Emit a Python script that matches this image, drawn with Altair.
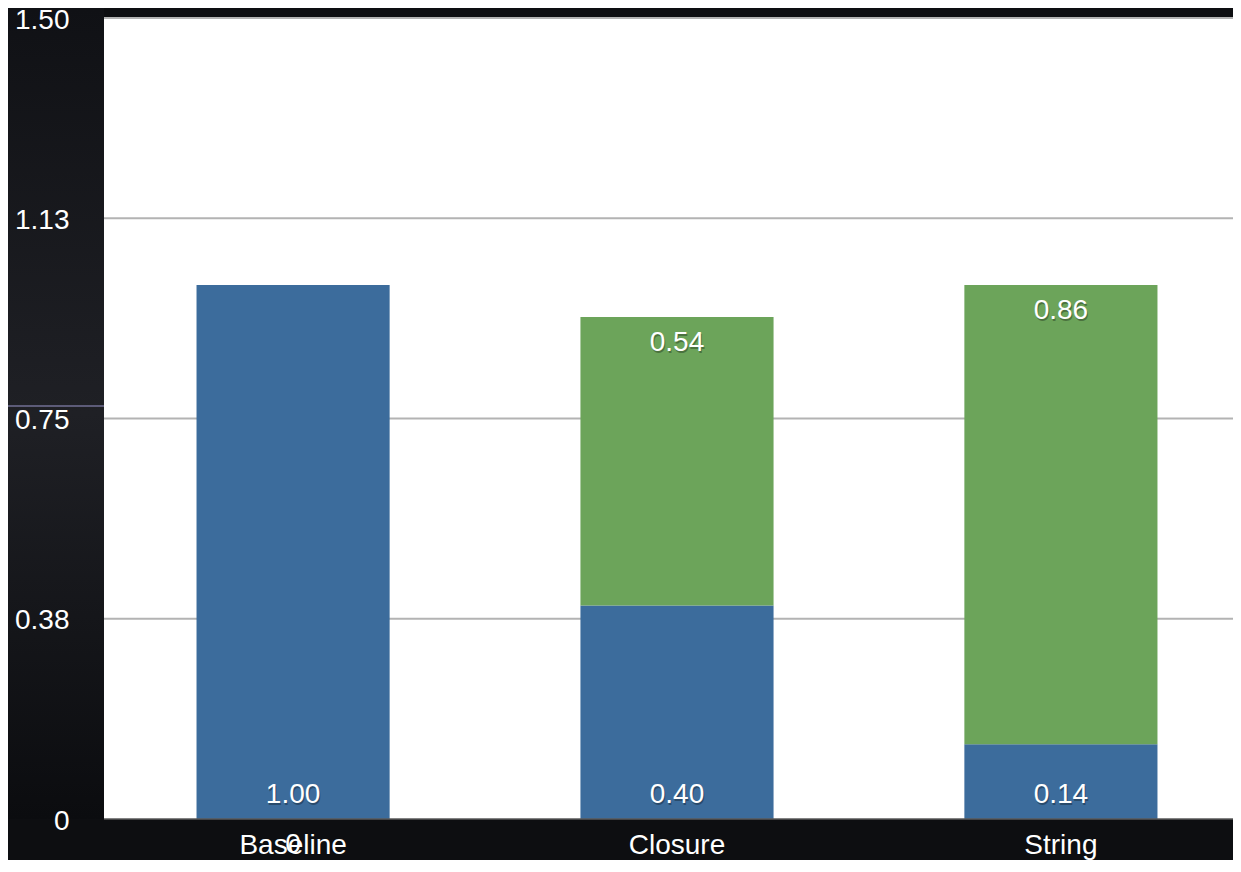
import altair as alt
import pandas as pd

categories = ["Baseline", "Closure", "String"]
blue_values = [1.00, 0.40, 0.14]
green_values = [0.00, 0.54, 0.86]
y_ticks = [0, 0.375, 0.75, 1.125, 1.5]
grid_ticks = [0.375, 0.75, 1.125, 1.5]

BLUE = "#3c6c9c"
GREEN = "#6ca45a"
FONT = "Liberation Sans"
W, H = 1129, 801
PAD_L, PAD_T, PAD_B = 96, 10, 41

rows = []
for c, b, g in zip(categories, blue_values, green_values):
    rows.append(dict(category=c, series="blue", value=b, start=0.0, end=b, anchor=0.0))
    rows.append(dict(category=c, series="green", value=g, start=b, end=b + g,
                     anchor=(b + g) if g > 0 else 0.0))
df = pd.DataFrame(rows)
df["label"] = ["0" if v == 0 else f"{v:.2f}" for v in df["value"]]

grid_df = pd.DataFrame({"tick": grid_ticks})
axis_df = pd.DataFrame({"tick": y_ticks})
one = pd.DataFrame({"a": [0]})

yscale = alt.Scale(domain=[0, 1.5], nice=False, zero=True)
xscale = alt.Scale(domain=categories, range=[0, 1146], paddingInner=0.497, paddingOuter=0.241)

y_axis = alt.Axis(
    values=y_ticks, title=None, grid=False, ticks=False, domain=False,
    labelExpr="datum.value == 0 ? '0' : format(datum.value, '.2f')",
    labelFontSize=28, labelColor="white", labelFont=FONT, labelPadding=35,
    labelAlign="right", labelBaseline="middle", labelOffset=2, zindex=1,
)
x_axis = alt.Axis(
    title=None, ticks=False, domain=False, labelAngle=0, labelFontSize=28,
    labelColor="white", labelFont=FONT, labelPadding=26, labelBaseline="middle", zindex=1,
)

gradient = alt.LinearGradient(
    gradient="linear", x1=0, x2=0, y1=0, y2=1,
    stops=[
        alt.GradientStop(color="#101115", offset=0),
        alt.GradientStop(color="#1f2025", offset=0.5),
        alt.GradientStop(color="#0b0c0f", offset=1),
    ],
)

panel = alt.Chart(one).mark_rect(color=gradient).encode(
    x=alt.value(-PAD_L), x2=alt.value(0), y=alt.value(-PAD_T), y2=alt.value(H)
)
lav = alt.Chart(one).mark_rule(color="#9a96cc", strokeWidth=1).encode(
    x=alt.value(-PAD_L), x2=alt.value(0), y=alt.value(388)
)

axis_layer = alt.Chart(axis_df).mark_rule(opacity=0).encode(
    y=alt.Y("tick:Q", scale=yscale, axis=y_axis)
)

grid = alt.Chart(grid_df).mark_rule(color="#b3b3b3", strokeWidth=2).encode(
    y=alt.Y("tick:Q", scale=yscale, axis=y_axis), x=alt.value(0), x2=alt.value(W)
)

bars = alt.Chart(df).mark_bar().encode(
    x=alt.X("category:N", scale=xscale, axis=x_axis, sort=categories),
    y=alt.Y("start:Q", scale=yscale, axis=y_axis),
    y2="end:Q",
    color=alt.Color("series:N", scale=alt.Scale(domain=["blue", "green"], range=[BLUE, GREEN]),
                    legend=None),
)

baseline = alt.Chart(one).mark_rule(color="#5a5a5a", strokeWidth=1.5).encode(
    x=alt.value(0), x2=alt.value(W), y=alt.value(H)
)


def labels(series, dy):
    base = alt.Chart(df).transform_filter(alt.datum.series == series)
    enc = dict(
        x=alt.X("category:N", scale=xscale, axis=x_axis, sort=categories),
        y=alt.Y("anchor:Q", scale=yscale, axis=y_axis),
        text="label:N",
    )
    shadow = base.mark_text(fontSize=28, font=FONT, color="black", opacity=0.3,
                            baseline="middle", dy=dy + 2, dx=1).encode(**enc)
    txt = base.mark_text(fontSize=28, font=FONT, color="white",
                         baseline="middle", dy=dy).encode(**enc)
    return shadow + txt


chart = alt.layer(
    panel, lav, axis_layer, grid, bars, baseline,
    labels("blue", -24), labels("green", 26),
).properties(
    width=W, height=H, background="#0d0e11",
    autosize=alt.AutoSizeParams(type="none"),
    padding={"left": PAD_L, "top": PAD_T, "right": 0, "bottom": PAD_B},
).configure_view(fill="white", strokeWidth=0)

chart.save("out.html", embed_options={"renderer": "svg", "actions": False})
